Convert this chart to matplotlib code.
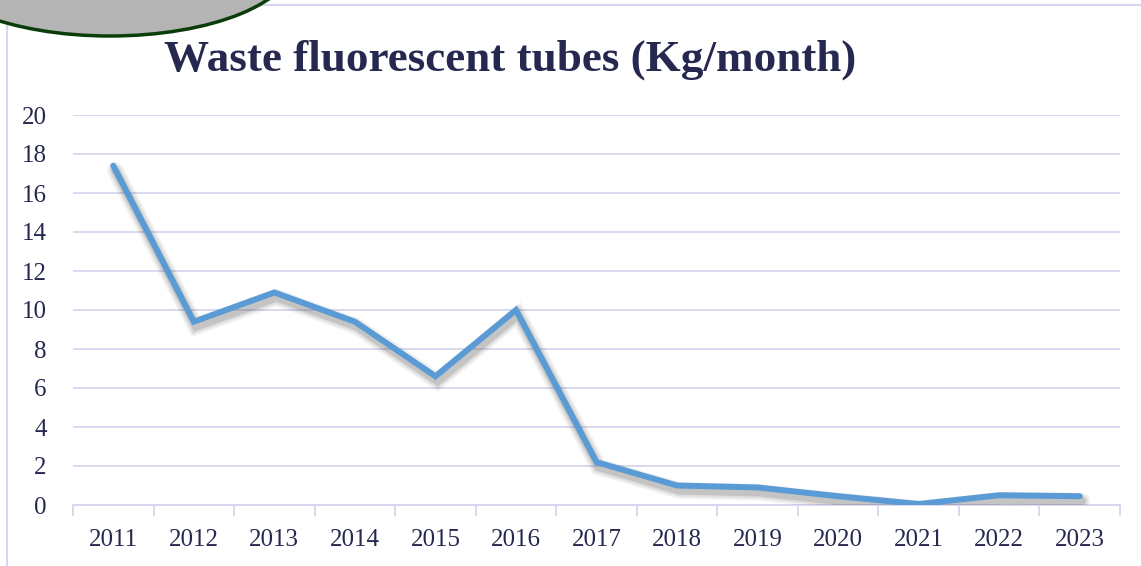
import numpy as np
import matplotlib.pyplot as plt
import matplotlib.patheffects as pe
from matplotlib.patches import Ellipse, Rectangle

years = ["2011", "2012", "2013", "2014", "2015", "2016", "2017",
         "2018", "2019", "2020", "2021", "2022", "2023"]
waste_kg = [17.4, 9.4, 10.9, 9.4, 6.6, 10.0, 2.2, 1.0, 0.9, 0.45, 0.05, 0.5, 0.45]

navy = "#262850"
grid_col = "#D6D6EE"
line_col = "#5B9BD5"

plt.rcParams['font.family'] = ['Liberation Serif', 'DejaVu Serif']

fig = plt.figure(figsize=(11.41, 5.66), dpi=100)

# outer frame and decorative ellipse in the top left corner
fig.patches.append(Rectangle((7 / 1141, -0.1), 1.2, 1.1 - 5 / 566,
                             transform=fig.transFigure, fill=False,
                             edgecolor=grid_col, linewidth=1.5, zorder=0))
fig.patches.append(Ellipse((110 / 1141, 1 + 40 / 566), 370 / 1141, 152 / 566,
                           transform=fig.transFigure, facecolor="#B3B4B3",
                           edgecolor="#0B3D0B", linewidth=2.5, zorder=1))

ax = fig.add_axes([73 / 1141, 1 - 505 / 566, (1120 - 73) / 1141, (505 - 115) / 566])
x = np.arange(len(years))

# soft blurred-looking shadow built from a few wide translucent strokes
shadow = [pe.SimpleLineShadow(offset=(1.5, -3.5), shadow_color="#404040",
                              alpha=a, rho=1.0, linewidth=w)
          for w, a in [(12, 0.07), (9, 0.10), (6, 0.16)]]
ax.plot(x, waste_kg, color=line_col, linewidth=4.3, solid_capstyle="round",
        solid_joinstyle="miter", zorder=3,
        path_effects=shadow + [pe.Normal()])

ax.set_xlim(-0.5, len(years) - 0.5)
ax.set_ylim(0, 20)
ax.set_yticks(np.arange(0, 21, 2))
ax.yaxis.grid(True, color=grid_col, linewidth=1.3)
ax.set_axisbelow(True)

ax.set_xticks(np.arange(-0.5, len(years), 1.0))
ax.set_xticklabels([])
ax.set_xticks(x, minor=True)
ax.set_xticklabels(years, minor=True)
ax.tick_params(axis="x", which="major", length=8, width=1.3, color=grid_col, direction="out")
ax.tick_params(axis="x", which="minor", length=0, pad=17, labelsize=18, labelcolor=navy)
ax.tick_params(axis="y", length=0, pad=19, labelsize=18, labelcolor=navy)

for side in ["left", "right", "top"]:
    ax.spines[side].set_visible(False)
ax.spines["bottom"].set_color(grid_col)
ax.spines["bottom"].set_linewidth(1.3)

fig.text(510 / 1141, 1 - 60 / 566, "Waste fluorescent tubes (Kg/month)",
         ha="center", va="center", fontsize=32.5, fontweight="bold", color=navy)

fig.savefig("out.png", dpi=100)
